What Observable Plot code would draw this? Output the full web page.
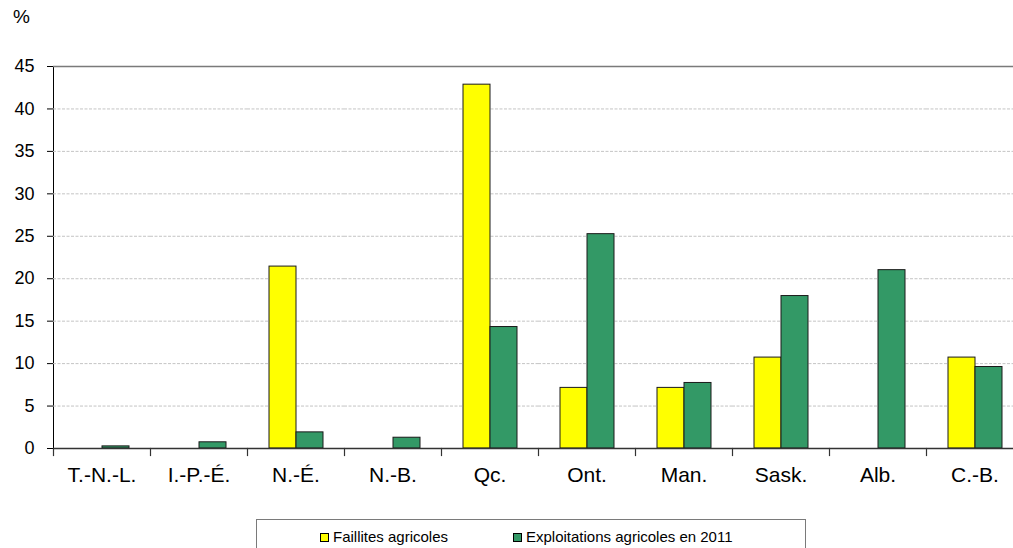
<!DOCTYPE html>
<html><head><meta charset="utf-8">
<script src="https://cdn.jsdelivr.net/npm/d3@7"></script>
<script src="https://cdn.jsdelivr.net/npm/@observablehq/plot@0.6"></script>
<style>
body{margin:0;background:#fff;overflow:hidden;font-family:"Liberation Sans",Arial,sans-serif;color:#000;}
#wrap{position:relative;width:1013px;height:548px;overflow:hidden;}
#unit{position:absolute;left:13px;top:6px;font-size:19px;}
#chart{position:absolute;left:0;top:0;}
#legend{position:absolute;left:256px;top:519px;width:550px;height:40px;border:1px solid #7a7a7a;box-sizing:border-box;font-size:15px;}
.item{position:absolute;top:8px;white-space:nowrap;}
.sw{position:absolute;top:5px;width:7px;height:7px;border:1px solid #000;}
.lbl{position:absolute;left:13px;top:0;}
</style>
</head><body>
<div id="wrap">
  <div id="chart"></div>
  <div id="unit">%</div>
  <div id="legend"></div>
</div>
<script>
const categories = ["T.-N.-L.", "I.-P.-É.", "N.-É.", "N.-B.", "Qc.", "Ont.", "Man.", "Sask.", "Alb.", "C.-B."];
const seriesNames = ["Faillites agricoles", "Exploitations agricoles en 2011"];
const faillites = [0, 0, 21.43, 0, 42.86, 7.14, 7.14, 10.71, 0, 10.71];
const exploitations = [0.25, 0.73, 1.90, 1.27, 14.31, 25.25, 7.72, 17.96, 21.01, 9.60];
const yTicks = [0, 5, 10, 15, 20, 25, 30, 35, 40, 45];
const seriesColors = ["#ffff00", "#339966"];

const rows = [];
categories.forEach((c, i) => {
  rows.push({category: c, series: seriesNames[0], value: faillites[i]});
  rows.push({category: c, series: seriesNames[1], value: exploitations[i]});
});

const plot = Plot.plot({
  width: 1023,
  height: 488,
  marginLeft: 53,
  marginRight: 0,
  marginTop: 66,
  marginBottom: 40,
  style: {fontFamily: "'Liberation Sans', Arial, sans-serif", fontSize: "18px", color: "#000", background: "transparent", maxWidth: "none"},
  fx: {domain: categories, padding: 0},
  x: {domain: seriesNames, paddingInner: 0, paddingOuter: 0.75, axis: null},
  y: {domain: [0, 45], ticks: yTicks, tickSize: 6, tickPadding: 13, label: null, line: true, tickFormat: d => String(d)},
  color: {domain: seriesNames, range: seriesColors},
  marks: [
    Plot.ruleY(yTicks.filter(v => v > 0 && v < 45), {stroke: "#c4c4c4", strokeDasharray: "3,1.5"}),
    Plot.ruleY([45], {stroke: "#7a7a7a", strokeWidth: 1.5}),
    Plot.barY(rows.filter(d => d.value > 0), {
      fx: "category", x: "series", y: "value", fill: "series",
      stroke: "#1a1a1a", strokeWidth: 1, insetLeft: 0, insetRight: 0
    }),
    Plot.ruleY([0], {stroke: "#333", strokeWidth: 1.3}),
    Plot.frame({anchor: "left", insetTop: 382, insetBottom: -7, stroke: "#333", strokeWidth: 1.2}),
    Plot.axisFx({anchor: "bottom", tickSize: 0, tickPadding: 19, fontSize: 21, label: null})
  ]
});
document.getElementById("chart").appendChild(plot);

const legend = document.getElementById("legend");
const legendX = [63, 256];
seriesNames.forEach((s, i) => {
  const item = document.createElement("div");
  item.className = "item";
  item.style.left = legendX[i] + "px";
  const sw = document.createElement("div");
  sw.className = "sw";
  sw.style.background = seriesColors[i];
  const lbl = document.createElement("div");
  lbl.className = "lbl";
  lbl.textContent = s;
  item.appendChild(sw);
  item.appendChild(lbl);
  legend.appendChild(item);
});
</script>
</body></html>
